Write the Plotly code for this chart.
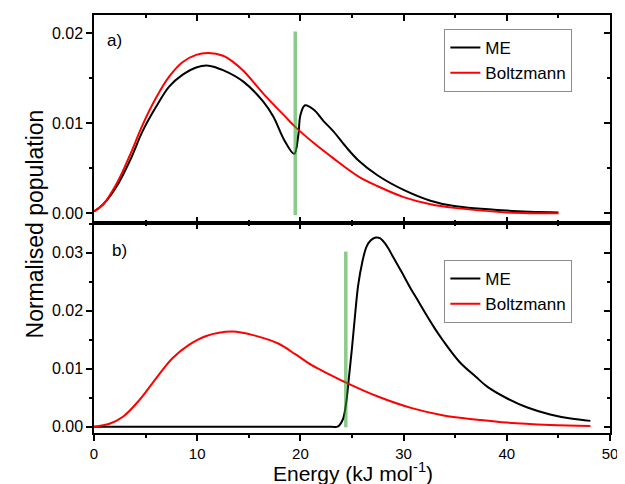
import plotly.graph_objects as go

# ---------------- data ----------------
# Panel a)
a_boltz_x = [0, 0.9, 2.2, 3.5, 4.7, 6.0, 7.3, 8.6, 9.9, 11.1, 12.5, 13.5, 14.5, 16.4, 18.4, 19.5,
             21.3, 23.2, 25.6, 27.5, 30.0, 32.6, 34.9, 40.0, 45.0]
a_boltz_y = [0.0002, 0.0010, 0.0033, 0.0065, 0.0098, 0.0128, 0.0152, 0.0168, 0.0176, 0.0178,
             0.0175, 0.0168, 0.0158, 0.0133, 0.0109, 0.0096, 0.0078, 0.0061, 0.0041, 0.0030,
             0.0018, 0.0010, 0.0006, 0.0001, 0.0000]
a_me_x = [0, 0.9, 2.2, 3.5, 4.7, 6.0, 7.3, 8.6, 9.9, 11.1, 12.5, 14.5, 16.4, 17.4, 18.4, 19.4,
          19.8, 20.0, 20.45, 21.3, 22.2, 23.2, 24.4, 25.6, 27.5, 30.0, 32.6, 34.9, 40.0, 45.0]
a_me_y = [0.0002, 0.0010, 0.0030, 0.0059, 0.0091, 0.0118, 0.0141, 0.0154, 0.0162, 0.0164,
          0.0159, 0.0146, 0.0124, 0.0107, 0.0082, 0.0066, 0.0087, 0.0109, 0.0120, 0.0115,
          0.0103, 0.0091, 0.0074, 0.0059, 0.0042, 0.0026, 0.0014, 0.0008, 0.0003, 0.0001]
a_threshold_x = [19.5, 19.5]
a_threshold_y = [-0.0002, 0.0202]

# Panel b)
b_boltz_x = [0, 1.5, 2.8, 4.4, 6.0, 7.6, 9.2, 10.8, 13.4, 15.6, 17.9, 19.5, 21.1, 22.7, 24.3,
             27.5, 30.8, 34.0, 37.2, 40.0, 44.2, 48.1]
b_boltz_y = [0.0000, 0.0005, 0.0017, 0.0046, 0.0083, 0.0118, 0.0141, 0.0156, 0.0164, 0.0157,
             0.0143, 0.0125, 0.0106, 0.0091, 0.0077, 0.0052, 0.0032, 0.0019, 0.0012, 0.0007,
             0.0003, 0.0001]
b_me_x = [0, 10.0, 20.0, 23.0, 23.6, 24.1, 24.4, 24.7, 25.0, 25.3, 25.6, 26.0, 26.4, 26.8, 27.3,
          27.7, 28.2, 28.5, 29.0, 29.8, 30.6, 31.4, 32.2, 33.0, 33.8, 35.4, 37.0, 38.1, 40.0,
          42.0, 44.2, 46.2, 48.1]
b_me_y = [0.0, 0.0, 0.0, 0.0, 0.0, 0.0012, 0.0037, 0.0084, 0.0136, 0.0193, 0.0244, 0.0284,
          0.0310, 0.0321, 0.0326, 0.0325, 0.0316, 0.0308, 0.0292, 0.0267, 0.0241, 0.0217,
          0.0193, 0.0170, 0.0149, 0.0112, 0.0086, 0.0069, 0.0049, 0.0033, 0.0021, 0.0014,
          0.0010]
b_threshold_x = [24.4, 24.4]
b_threshold_y = [-0.0001, 0.0302]

series_names = ["ME", "Boltzmann"]
x_ticks = [0, 10, 20, 30, 40, 50]
a_y_ticks = [0.00, 0.01, 0.02]
b_y_ticks = [0.00, 0.01, 0.02, 0.03]

# ---------------- figure ----------------
FONT = "Liberation Sans, Arial, sans-serif"
GREEN = "rgba(40,160,40,0.55)"
SM = 1.0

fig = go.Figure()

fig.add_trace(go.Scatter(x=a_me_x, y=a_me_y, name=series_names[0], mode="lines",
                         line=dict(color="black", width=2, shape="spline", smoothing=SM),
                         xaxis="x", yaxis="y", legend="legend"))
fig.add_trace(go.Scatter(x=a_boltz_x, y=a_boltz_y, name=series_names[1], mode="lines",
                         line=dict(color="red", width=2, shape="spline", smoothing=SM),
                         xaxis="x", yaxis="y", legend="legend"))
# threshold line drawn on the mirrored (top/right) axes so those axes get rendered
fig.add_trace(go.Scatter(x=a_threshold_x, y=a_threshold_y, mode="lines", showlegend=False,
                         line=dict(color=GREEN, width=3.5), xaxis="x3", yaxis="y3"))

fig.add_trace(go.Scatter(x=b_me_x, y=b_me_y, name=series_names[0], mode="lines",
                         line=dict(color="black", width=2, shape="spline", smoothing=SM),
                         xaxis="x2", yaxis="y2", legend="legend2"))
fig.add_trace(go.Scatter(x=b_boltz_x, y=b_boltz_y, name=series_names[1], mode="lines",
                         line=dict(color="red", width=2, shape="spline", smoothing=SM),
                         xaxis="x2", yaxis="y2", legend="legend2"))
fig.add_trace(go.Scatter(x=b_threshold_x, y=b_threshold_y, mode="lines", showlegend=False,
                         line=dict(color=GREEN, width=3.5), xaxis="x4", yaxis="y4"))

split = 0.5024
xr = [0, 50]
ya_r = [-0.00108, 0.02203]
yb_r = [-0.00109, 0.03512]

common = dict(showline=True, linecolor="black", linewidth=1.5, showgrid=False, zeroline=False,
              tickcolor="black", tickwidth=1.5,
              tickfont=dict(family=FONT, size=16, color="black"))


def xax(anchor, ticks, labels, side="bottom", overlay=None):
    d = dict(common, anchor=anchor, range=xr, tickvals=x_ticks, ticks=ticks, ticklen=6,
             showticklabels=labels, side=side,
             tickfont=dict(family=FONT, size=15, color="black"),
             minor=dict(dtick=5, tick0=0, ticks=ticks, ticklen=3, tickcolor="black", tickwidth=1.5))
    if overlay:
        d["overlaying"] = overlay
    return d


def yax(anchor, rng, tv, domain, ticks, labels, side="left", overlay=None):
    d = dict(common, anchor=anchor, range=rng, tickvals=tv, ticks=ticks, ticklen=6,
             showticklabels=labels, side=side, tickformat=".2f",
             minor=dict(dtick=0.005, tick0=0, ticks=ticks, ticklen=3, tickcolor="black", tickwidth=1.5))
    if overlay:
        d["overlaying"] = overlay
    else:
        d["domain"] = domain
    return d


# the page body adds an 8px offset, so the figure is 8px smaller than the window
fig.update_layout(
    width=617, height=476,
    margin=dict(l=86, r=11, t=7, b=51),
    paper_bgcolor="white", plot_bgcolor="white",
    font=dict(family=FONT, color="black"),
    xaxis=xax("y", "inside", False),
    xaxis3=xax("y3", "inside", False, side="top", overlay="x"),
    xaxis2=xax("y2", "outside", True),
    xaxis4=xax("y4", "inside", False, side="top", overlay="x2"),
    yaxis=yax("x", ya_r, a_y_ticks, [split, 1], "outside", True),
    yaxis3=yax("x3", ya_r, a_y_ticks, None, "inside", False, side="right", overlay="y"),
    yaxis2=yax("x2", yb_r, b_y_ticks, [0, split], "outside", True),
    yaxis4=yax("x4", yb_r, b_y_ticks, None, "inside", False, side="right", overlay="y2"),
    legend=dict(x=0.679, y=0.9665, xanchor="left", yanchor="top",
                bgcolor="white", bordercolor="#8c8c8c", borderwidth=1,
                font=dict(family=FONT, size=17, color="black"), tracegroupgap=0),
    legend2=dict(x=0.679, y=0.4139, xanchor="left", yanchor="top",
                 bgcolor="white", bordercolor="#8c8c8c", borderwidth=1,
                 font=dict(family=FONT, size=17, color="black"), tracegroupgap=0),
    showlegend=True,
    annotations=[
        dict(text="a)", xref="paper", yref="paper", x=(115 - 94) / 520, y=(433 - 40) / 418,
             showarrow=False, xanchor="center", yanchor="middle",
             font=dict(family=FONT, size=17, color="black")),
        dict(text="b)", xref="paper", yref="paper", x=(120 - 94) / 520, y=(433 - 250) / 418,
             showarrow=False, xanchor="center", yanchor="middle",
             font=dict(family=FONT, size=17, color="black")),
        dict(text="Normalised population", xref="paper", yref="paper",
             x=(35 - 94) / 520, y=0.5, textangle=-90, showarrow=False,
             xanchor="center", yanchor="middle",
             font=dict(family=FONT, size=23, color="black")),
        dict(text="Energy (kJ mol<sup>-1</sup>)", xref="paper", yref="paper",
             x=0.502, y=(433 - 472) / 418, showarrow=False,
             xanchor="center", yanchor="middle",
             font=dict(family=FONT, size=21, color="black")),
    ],
)

fig.write_html("out.html")
